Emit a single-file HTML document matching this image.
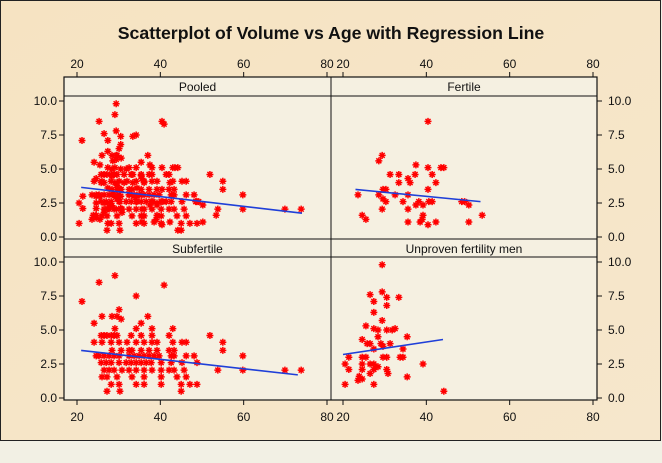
<!DOCTYPE html>
<html><head><meta charset="utf-8"><style>
body{margin:0;background:#f2f0e4;}
svg{display:block;font-family:"Liberation Sans",sans-serif;}
</style></head><body>
<svg id="c" width="662" height="463" viewBox="0 0 662 463">
<defs><linearGradient id="bg" x1="0" y1="0" x2="1" y2="1"><stop offset="0" stop-color="#f6e3c2"/><stop offset="1" stop-color="#f6e7cc"/></linearGradient></defs>
<rect x="0" y="0" width="662" height="463" fill="#f2f0e4"/>
<rect x="0.5" y="0.5" width="660" height="440" fill="url(#bg)" stroke="#222"/>
<text x="331" y="39" text-anchor="middle" font-size="17.7" font-weight="bold" fill="#111">Scatterplot of Volume vs Age with Regression Line</text>
<g id="g"></g>
</svg>
<script>
const fertAge=[40.4,29.4,28.6,37.5,40.4,43.5,44.2,31.3,33.4,37.3,41.4,35.6,36.1,33.4,42.3,40.4,29.6,30.3,23.6,28.6,32.5,35.6,29.6,30.3,34.4,38.2,40.6,41.4,37.5,39.2,48.5,49.2,50.2,35.6,29.4,24.6,25.5,39.2,39,38.5,35.6,42.3,40.4,50.2,53.4];
const fertVol=[8.5,6.0,5.6,5.3,5.1,5.1,5.1,4.6,4.6,4.6,4.6,4.3,4.0,4.0,4.0,3.5,3.5,3.5,3.1,3.1,3.1,3.1,2.8,2.6,2.6,2.6,2.6,2.6,2.35,2.35,2.6,2.6,2.35,2.05,2.05,1.6,1.3,1.6,1.3,1.1,1.1,1.1,0.9,1.1,1.6];
const subAge=[29.1,25.3,40.9,21.2,34.2,30.1,26,28.4,29.6,30.6,37,24.1,35.4,29.1,34.2,38,43,25.8,26.5,27.2,28.2,28.9,29.6,33,35.4,38,42.1,51.9,24.1,26,28.2,30.1,32,34.2,36.1,38,39.2,43,45.2,46.2,55,55,28.4,30.6,32.5,33.2,35.4,37.3,39.2,42.1,43.3,24.6,25.3,26.5,27.7,28.9,30.1,32.5,33.7,34.9,36.1,37.3,38.5,39.7,42.6,43.3,46.2,48.1,59.8,25.8,27,28.2,30.1,31.8,33,34.2,35.4,36.6,37.8,40.2,42.6,45.2,48.8,53.8,59.8,69.9,73.8,26.5,27.7,28.9,30.8,32.5,34.2,36.1,38,40.2,42.1,43.3,45.7,26,27.2,29.6,33.2,36.1,40.2,44,46.2,28.2,30.1,34.2,36.1,40.2,45,47.1,48.8,27.2,30.3,45];
const subVol=[9.0,8.5,8.3,7.1,7.5,6.5,6.0,6.0,6.0,5.8,6.0,5.5,5.5,5.1,5.1,5.1,5.1,4.6,4.6,4.6,4.6,4.6,4.6,4.6,4.6,4.6,4.6,4.6,4.1,4.1,4.1,4.1,4.1,4.1,4.1,4.1,4.1,4.1,4.1,4.1,4.1,3.5,3.5,3.5,3.5,3.5,3.5,3.5,3.5,3.5,3.5,3.1,3.1,3.1,3.1,3.1,3.1,3.1,3.1,3.1,3.1,3.1,3.1,3.1,3.1,3.1,3.1,3.1,3.1,2.6,2.6,2.6,2.6,2.6,2.6,2.6,2.6,2.6,2.6,2.6,2.6,2.6,2.6,2.05,2.05,2.05,2.05,2.05,2.05,2.05,2.05,2.05,2.05,2.05,2.05,2.05,2.05,2.05,2.05,1.55,1.55,1.55,1.55,1.55,1.55,1.55,1.55,1.0,1.0,1.0,1.0,1.0,1.0,1.0,1.0,0.5,0.5,0.5];
const unpAge=[29.4,26.5,27.4,27.4,29.4,30.5,30.5,33.4,29.4,25.5,27.4,28.4,30.5,31.8,32.5,35.4,28.4,24.6,25.8,26.5,29.1,31.3,27.4,29.6,34.4,21.4,24.6,25.5,29.6,30.5,33.7,34.4,20.5,21.4,24.6,26.5,27.4,28.4,39.2,24.6,26.5,27.4,30.5,30.8,23.9,24.6,23.6,35.4,20.5,27.4,44.2];
const unpVol=[9.8,7.6,7.1,6.3,7.8,7.4,6.8,7.4,5.7,5.3,5.1,5.0,5.0,5.0,5.1,4.5,4.5,4.3,4.0,4.0,4.0,4.0,3.6,3.8,3.6,3.0,3.0,3.0,3.0,3.0,3.0,3.0,2.5,2.1,2.5,2.5,2.5,2.3,2.5,2.1,1.8,2.1,2.1,1.8,1.6,1.4,1.3,1.55,1.0,1.0,0.5];
const panelNames=["Pooled","Fertile","Subfertile","Unproven fertility men"];
const regAge0=[21,23,21,20];
const regAge1=[74,53,73,44];
const regVol0=[3.65,3.5,3.5,3.2];
const regVol1=[1.75,2.6,1.7,4.3];
const xTicks=[20,40,60,80];
const yTicks=[0,2.5,5,7.5,10];

const NS="http://www.w3.org/2000/svg";
const G=document.getElementById('g');
function mk(t,a,p){const e=document.createElementNS(NS,t);for(const k in a)e.setAttribute(k,a[k]);(p||G).appendChild(e);return e;}
const colX=[77,343], rowY0=[237,398], px=250/60, py=13.6;
function xs(c,a){return colX[c]+(a-20)*px;}
function ys(r,v){return rowY0[r]-v*py;}
const boxL=[64,331], boxR=[331,597], boxT=[77,239], boxB=[239,400], stripH=[19,18];
const pooledAge=fertAge.concat(subAge,unpAge), pooledVol=fertVol.concat(subVol,unpVol);
const sets=[[pooledAge,pooledVol],[fertAge,fertVol],[subAge,subVol],[unpAge,unpVol]];
for(let p=0;p<4;p++){
  const c=p%2,r=Math.floor(p/2);
  const pg=mk('g',{});
  
  
  mk('rect',{x:boxL[c],y:boxT[r],width:boxR[c]-boxL[c],height:boxB[r]-boxT[r],fill:'#f5f0e1'},pg);
  mk('line',{x1:boxL[c],x2:boxR[c],y1:boxT[r]+stripH[r],y2:boxT[r]+stripH[r],stroke:'#111','stroke-width':1},pg);
  const st=mk('text',{x:(boxL[c]+boxR[c])/2,y:boxT[r]+14,'text-anchor':'middle','font-size':12,fill:'#111'},pg);
  st.textContent=panelNames[p];
  
  
  const [A,V]=sets[p];
  for(let i=0;i<A.length;i++){
    const x=xs(c,A[i]),y=ys(r,V[i]),s=3.5,d=2.5;
    const m=mk('path',{d:`M${x-s},${y}H${x+s}M${x},${y-s}V${y+s}M${x-d},${y-d}L${x+d},${y+d}M${x+d},${y-d}L${x-d},${y+d}`,stroke:'#f00','stroke-width':1.5},pg);
    
    
  }
  const ln=mk('line',{x1:xs(c,regAge0[p]),y1:ys(r,regVol0[p]),x2:xs(c,regAge1[p]),y2:ys(r,regVol1[p]),stroke:'#1f3fd8','stroke-width':1.6},pg);
  
  
}
mk('rect',{x:64,y:77,width:533,height:323,fill:'none',stroke:'#111','stroke-width':1.2});
mk('line',{x1:331,x2:331,y1:77,y2:400,stroke:'#111'});
mk('line',{x1:64,x2:597,y1:239,y2:239,stroke:'#111'});
for(let c=0;c<2;c++){
  for(const [yl,dir,ty] of [[77,-1,68],[400,1,421]]){
    xTicks.forEach(t=>{
      const x=xs(c,t);
      mk('line',{x1:x,x2:x,y1:yl,y2:yl+dir*5,stroke:'#111'});
      const tx=mk('text',{x:x,y:ty,'text-anchor':'middle','font-size':12,fill:'#111'});
      tx.textContent=t;
      
      
    });
  }
}
for(let r=0;r<2;r++){
  yTicks.forEach(t=>{
    const y=ys(r,t);
    mk('line',{x1:64,x2:59,y1:y,y2:y,stroke:'#111'});
    const a=mk('text',{x:57,y:y+4,'text-anchor':'end','font-size':12,fill:'#111'});
    a.textContent=t.toFixed(1);
    
    
    mk('line',{x1:597,x2:602,y1:y,y2:y,stroke:'#111'});
    const b=mk('text',{x:608,y:y+4,'text-anchor':'start','font-size':12,fill:'#111'});
    b.textContent=t.toFixed(1);
    
    
  });
}
</script>
</body></html>
